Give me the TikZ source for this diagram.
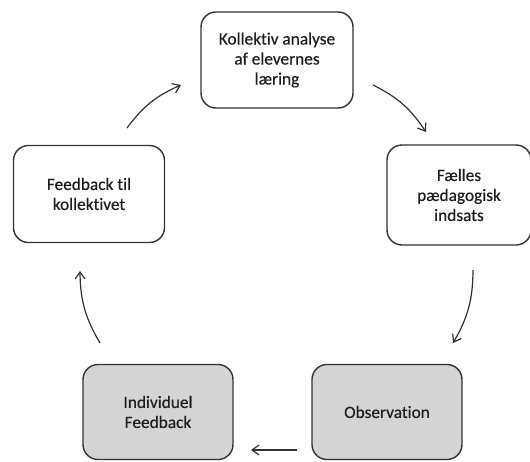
\documentclass[tikz,border=0pt]{standalone}
\usepackage{fontspec}
\setmainfont{Carlito}[FakeBold=0.3,Ligatures=CommonOff]
\usetikzlibrary{arrows.meta}
\definecolor{edgecol}{HTML}{333333}
\definecolor{boxgray}{HTML}{D4D4D4}
\definecolor{txtcol}{HTML}{1E1E1E}
\begin{document}
\begin{tikzpicture}[x=1pt,y=-1pt,
  stagebox/.style={draw=edgecol, line width=1.4pt, rounded corners=15pt, fill=white,
    align=center, text=txtcol, inner sep=0pt,
    font=\fontsize{17.3}{20}\selectfont},
  graybox/.style={stagebox, fill=boxgray},
  flow/.style={draw=edgecol, line width=1.2pt, -{Straight Barb[length=7pt,width=10pt,line width=1.2pt]}}]
\useasboundingbox (0,0) rectangle (530,461);
\node[stagebox, minimum width=152pt, minimum height=96pt] (top) at (277,60)
  {Kollektiv analyse\\af elevernes\\læring};
\node[stagebox, minimum width=151pt, minimum height=97pt] (left) at (89,194)
  {Feedback til\\kollektivet};
\node[stagebox, minimum width=144pt, minimum height=100pt] (right) at (459,195)
  {Fælles\\pædagogisk\\indsats};
\node[graybox, minimum width=150pt, minimum height=95pt] (indiv) at (158,412)
  {Individuel\\Feedback};
\node[graybox, minimum width=150pt, minimum height=95pt] (obs) at (387,412)
  {Observation};
\coordinate (a1s) at (127,128); \coordinate (a1e) at (181,85);
\coordinate (a2s) at (373,85);  \coordinate (a2e) at (426,132);
\coordinate (a3s) at (473,270); \coordinate (a3e) at (453,343);
\coordinate (a4s) at (297,450); \coordinate (a4e) at (251,450);
\coordinate (a5s) at (100,343); \coordinate (a5e) at (80,271);
\draw[flow] (a1s) to[bend left=15] (a1e);
\draw[flow] (a2s) to[bend left=15] (a2e);
\draw[flow] (a3s) to[bend left=15] (a3e);
\draw[flow] (a4s) -- (a4e);
\draw[flow] (a5s) to[bend left=15] (a5e);
\end{tikzpicture}
\end{document}
